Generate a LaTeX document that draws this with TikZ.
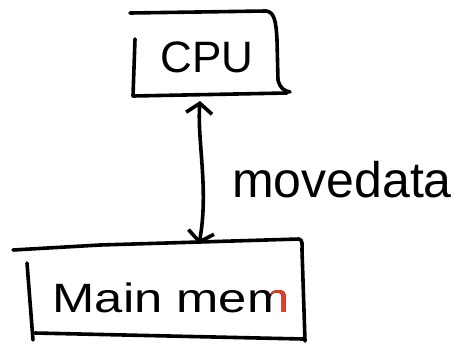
\documentclass[tikz,border=0pt]{standalone}
\usepackage{fontspec}
\setmainfont{Liberation Sans}
\usetikzlibrary{arrows.meta}
\definecolor{inkred}{RGB}{230,60,40}
\tikzset{
  ink/.style={line width=3.6pt, line cap=round, line join=round, black},
  label/.style={inner sep=0pt, anchor=base},
}
\begin{document}
\begin{tikzpicture}[x=1pt, y=-1pt]
  \useasboundingbox (0,0) rectangle (457,343);
  \fill[white] (0,0) rectangle (457,343);

  % CPU box, sketched
  \draw[ink] (130,13) -- (266,11) .. controls (274,12) and (276,20) .. (277,40)
             -- (278,80) .. controls (280,88) and (284,91) .. (290,92);
  \draw[ink] (135,39) -- (133,96) -- (287,93);
  \node[label, font=\fontsize{44}{44}\selectfont] (cpu) at (207,72) {CPU};

  % main memory box, sketched
  \draw[ink] (13,250) -- (100,245) -- (299,239) .. controls (303,240) and (302,245) .. (302,250)
             -- (305,341);
  \draw[ink] (27,263) -- (33,340);
  \draw[ink] (35,333) -- (303,339);
  \node[label] (mem) at (171,312) {\scalebox{1.3}[1.05]{\fontsize{39}{39}\selectfont Main mem}};
  \begin{scope}
    \clip (271,260) rectangle (300,320);
    \node[label, text=inkred] at (171,312) {\scalebox{1.3}[1.05]{\fontsize{39}{39}\selectfont Main mem}};
  \end{scope}

  % data path between the two units
  \coordinate (cpuport) at (200,101);
  \coordinate (memport) at (199,244);
  \draw[ink, {Straight Barb[length=10pt,width=26pt,line width=3.6pt]}-{Straight Barb[length=10pt,width=26pt,line width=3.6pt]}]
    (memport) .. controls (209,190) and (197,140) .. (cpuport);
  \node[label, font=\fontsize{50}{50}\selectfont] (move) at (342,197) {movedata};
\end{tikzpicture}
\end{document}
